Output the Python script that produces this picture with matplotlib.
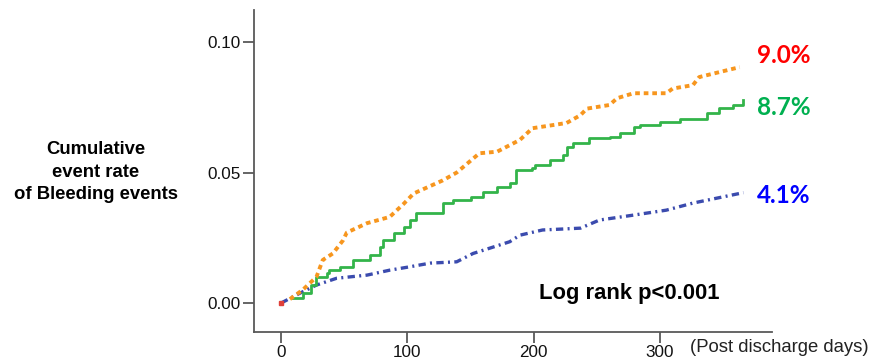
import numpy as np
import matplotlib
matplotlib.use("Agg")
import matplotlib.pyplot as plt

# cumulative bleeding event rate
orange_days = [7, 17, 28, 33, 41, 49, 52, 68, 86, 97, 105, 128, 139, 157, 171, 189, 199,
               226, 237, 242, 260, 266, 279, 305, 310, 326, 331, 347, 363]
orange_rate = [0.0015, 0.005, 0.010, 0.0165, 0.019, 0.024, 0.027, 0.0306, 0.033, 0.038, 0.042,
               0.047, 0.050, 0.0574, 0.058, 0.0625, 0.067, 0.069, 0.072, 0.0745, 0.0759,
               0.0785, 0.0804, 0.0804, 0.0822, 0.0835, 0.0866, 0.0885, 0.0904]

green_days = [9, 17, 24, 28, 36, 38, 47, 57, 70, 78, 81, 89, 97, 102, 107, 128, 136, 150,
              160, 171, 181, 186, 199, 201, 213, 223, 226, 231, 244, 260, 268, 279, 284,
              300, 316, 337, 347, 358, 366]
green_rate = [0.002, 0.004, 0.007, 0.010, 0.0115, 0.0126, 0.0139, 0.0165, 0.0184, 0.0216,
              0.024, 0.0268, 0.0293, 0.0318, 0.0344, 0.0383, 0.0395, 0.0407, 0.0427, 0.0446,
              0.0459, 0.051, 0.0517, 0.0529, 0.0548, 0.0567, 0.0599, 0.0613, 0.0632, 0.0637,
              0.065, 0.0676, 0.0682, 0.0695, 0.0707, 0.0727, 0.0746, 0.0759, 0.0778]

blue_days = [0, 15, 28, 44, 68, 86, 102, 118, 139, 152, 165, 181, 189, 207, 237, 252, 279,
             305, 326, 345, 366]
blue_rate = [0, 0.0038, 0.0069, 0.0095, 0.0107, 0.0126, 0.0139, 0.0153, 0.0158, 0.019, 0.021,
             0.0235, 0.026, 0.028, 0.0287, 0.0318, 0.0337, 0.0356, 0.0383, 0.0402, 0.0423]

end_labels = ["9.0%", "8.7%", "4.1%"]
end_label_y = [0.095, 0.0751, 0.0414]
end_label_colors = ["#FF0000", "#00B050", "#0000FF"]

x_ticks = [0, 100, 200, 300]
y_ticks = [0.00, 0.05, 0.10]

fig = plt.figure(figsize=(8.73, 3.57), dpi=100)
ax = fig.add_axes([0.291, 0.070, 0.593, 0.902])

ax.plot(blue_days, blue_rate, color="#3B4BAE", lw=2.4, linestyle=(0, (2.2, 1.3, 0.6, 1.3)))
ax.plot(green_days, green_rate, color="#33B44A", lw=2.0, drawstyle="steps-post")
ax.plot(orange_days, orange_rate, color="#F7961E", lw=2.8, linestyle=(0, (1.2, 1.0)))
ax.plot([0], [0], marker="s", ms=3.5, color="#E0403A", lw=0)

ax.set_xlim(-21.4, 388.4)
ax.set_ylim(-0.0111, 0.1123)
ax.set_xticks(x_ticks)
ax.set_yticks(y_ticks)
ax.set_yticklabels(["%.2f" % v for v in y_ticks])

for s in ["top", "right"]:
    ax.spines[s].set_visible(False)
for s in ["left", "bottom"]:
    ax.spines[s].set_color("#595959")
    ax.spines[s].set_linewidth(1.3)
ax.tick_params(axis="both", direction="out", length=8, width=1.3, color="#595959",
               labelsize=12.3, labelcolor="#111111", pad=1.5)
for lab in ax.get_xticklabels() + ax.get_yticklabels():
    lab.set_family("Liberation Sans")

for txt, yv, c in zip(end_labels, end_label_y, end_label_colors):
    ax.text(376.6, yv, txt, color=c, fontsize=17.5, fontweight="bold", family="Lato",
            va="center", ha="left", clip_on=False)

ax.text(204, 0.0038, "Log rank p<0.001", fontsize=15.8, fontweight="bold",
        family="Liberation Sans", va="center", ha="left")

fig.text(96 / 873, 1 - 172 / 357, "Cumulative\nevent rate\nof Bleeding events",
         ha="center", va="center", fontsize=13.3, fontweight="bold",
         family="Liberation Sans", linespacing=1.4)
fig.text(690 / 873, 1 - 348 / 357, "(Post discharge days)", ha="left", va="center",
         fontsize=13.3, family="Liberation Sans", color="#222222")

fig.savefig("out.png", dpi=100)
